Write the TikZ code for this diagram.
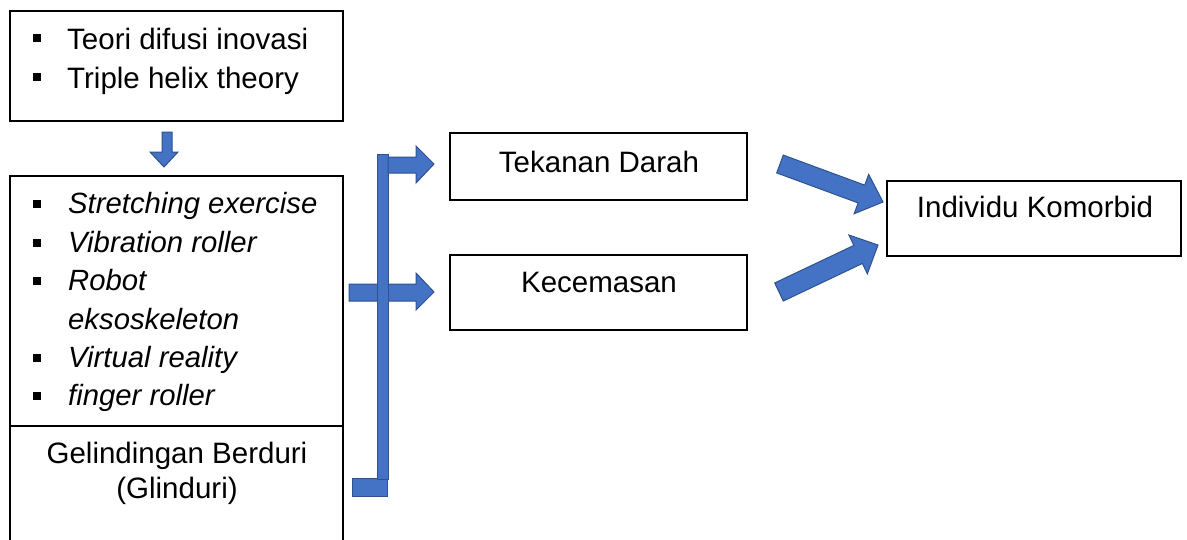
\documentclass[tikz,border=0pt]{standalone}
\usepackage{fontspec}
\setmainfont{Liberation Sans}
\usetikzlibrary{calc}
\definecolor{bfill}{HTML}{4472C4}
\definecolor{bline}{HTML}{2F528F}
\begin{document}
\begin{tikzpicture}[x=1pt,y=-1pt,
  box/.style={draw=black,line width=1.2pt},
  blk/.style={fill=bfill,draw=bline,line width=1pt,line join=miter},
  txt/.style={inner sep=0pt,font=\fontsize{29.5}{35}\selectfont},
  itm/.style={txt,anchor=base west,font=\fontsize{29.3}{35}\selectfont\itshape},
  bul/.style={fill=black,minimum width=8pt,minimum height=8.5pt,inner sep=0pt}]
\useasboundingbox (0,0) rectangle (1187,539);
\clip (0,0) rectangle (1187,539);
% boxes
\draw[box] (10,11) rectangle (343,121);
\draw[box] (10,176) rectangle (343,560);
\draw[box] (10,426) -- (343,426);
\draw[box] (450,133) rectangle (747,200);
\draw[box] (450,255) rectangle (747,330);
\draw[box] (887,181) rectangle (1181,256);
% box 1 text
\node[bul] (b1) at (37,38) {};
\node[txt,anchor=base west] (t1) at (67,49) {Teori difusi inovasi};
\node[bul] (b2) at (37,77) {};
\node[txt,anchor=base west] (t2) at (67,88) {Triple helix theory};
% box 2 text
\node[bul] (c1) at (37,204) {};
\node[itm] (s1) at (68,213) {Stretching exercise};
\node[bul] (c2) at (37,243) {};
\node[itm] (s2) at (68,252) {Vibration roller};
\node[bul] (c3) at (37,281) {};
\node[itm] (s3) at (68,290) {Robot};
\node[itm] (s4) at (68,329) {eksoskeleton};
\node[bul] (c5) at (37,358) {};
\node[itm] (s5) at (68,367) {Virtual reality};
\node[bul] (c6) at (37,396) {};
\node[itm] (s6) at (68,405) {finger roller};
\node[txt,anchor=base] (g1) at (177,463) {Gelindingan Berduri};
\node[txt,anchor=base] (g2) at (177,498) {(Glinduri)};
% right boxes text
\node[txt,anchor=base] (td) at (599,172) {Tekanan Darah};
\node[txt,anchor=base] (kc) at (599,292) {Kecemasan};
\node[txt,anchor=base] (ik) at (1035,217) {Individu Komorbid};
% small down arrow
\draw[blk] (162,132) -- (172,132) -- (172,152) -- (178,152) -- (164,167) -- (150,152) -- (162,152) -- cycle;
% bracket
\draw[blk] (352,478) rectangle (387,496);
\draw[blk] (349,284) -- (416,284) -- (416,273) -- (434,292) -- (416,310) -- (416,301) -- (349,301) -- cycle;
\draw[blk] (377,154) rectangle (388,479);
\draw[blk] (388,157) -- (416,157) -- (416,146) -- (434,164) -- (416,183) -- (416,173) -- (388,173) -- cycle;
% big arrows
\coordinate (a1t) at (780,164);
\coordinate (a1p) at (883,202);
\coordinate (a1b) at ($(a1p)!23pt!(a1t)$);
\draw[blk] ($(a1t)!9.5pt!90:(a1p)$) -- ($(a1b)!9.5pt!-90:(a1t)$) -- ($(a1b)!21pt!-90:(a1t)$) -- (a1p)
  -- ($(a1b)!21pt!90:(a1t)$) -- ($(a1b)!9.5pt!90:(a1t)$) -- ($(a1t)!9.5pt!-90:(a1p)$) -- cycle;
\coordinate (a2t) at (779,292);
\coordinate (a2p) at (878,245);
\coordinate (a2b) at ($(a2p)!22pt!(a2t)$);
\draw[blk] ($(a2t)!10pt!90:(a2p)$) -- ($(a2b)!10pt!-90:(a2t)$) -- ($(a2b)!21.5pt!-90:(a2t)$) -- (a2p)
  -- ($(a2b)!21.5pt!90:(a2t)$) -- ($(a2b)!10pt!90:(a2t)$) -- ($(a2t)!10pt!-90:(a2p)$) -- cycle;
\end{tikzpicture}
\end{document}
